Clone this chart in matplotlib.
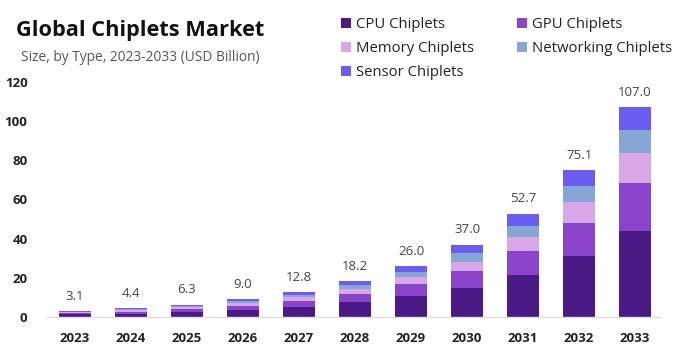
import matplotlib.pyplot as plt
import numpy as np

plt.rcParams["font.family"] = ["Open Sans", "DejaVu Sans"]

# Dados (USD Billion)
years = ["2023", "2024", "2025", "2026", "2027", "2028", "2029", "2030", "2031", "2032", "2033"]
totals = [3.1, 4.4, 6.3, 9.0, 12.8, 18.2, 26.0, 37.0, 52.7, 75.1, 107.0]

cpu = [1.3, 1.8, 2.6, 3.7, 5.3, 7.5, 10.7, 14.7, 21.6, 31.1, 44.0]
gpu = [0.7, 1.0, 1.4, 2.1, 2.9, 4.2, 6.0, 8.6, 12.1, 17.1, 24.6]
memory = [0.4, 0.6, 0.9, 1.3, 1.8, 2.5, 3.6, 5.0, 7.3, 10.4, 15.0]
networking = [0.4, 0.5, 0.7, 1.0, 1.4, 2.0, 2.9, 4.5, 5.5, 8.4, 12.0]
sensor = [0.3, 0.5, 0.7, 0.9, 1.4, 2.0, 2.8, 4.2, 6.2, 8.1, 11.4]

series = [
    ("CPU Chiplets", cpu, "#4a1a86"),
    ("GPU Chiplets", gpu, "#8a44cc"),
    ("Memory Chiplets", memory, "#d9a6e6"),
    ("Networking Chiplets", networking, "#86a6d6"),
    ("Sensor Chiplets", sensor, "#6b5cf2"),
]

fig = plt.figure(figsize=(6.86, 3.64), dpi=100)
ax = fig.add_axes([0.0685, 0.129, 0.894, 0.646])

x = np.arange(len(years))
bottom = np.zeros(len(years))
handles = {}
for name, vals, color in series:
    b = ax.bar(x, vals, width=0.57, bottom=bottom, color=color, label=name)
    handles[name] = b
    bottom += np.array(vals)

for xi, t in zip(x, totals):
    ax.annotate(f"{t:.1f}", (xi, t), xytext=(0, 6), textcoords="offset points",
                ha="center", va="bottom", fontsize=9.5, color="#444444")

ax.set_xlim(-0.5, 10.45)
ax.set_ylim(0, 120)
ax.set_yticks([0, 20, 40, 60, 80, 100, 120])
ax.set_xticks(x)
ax.set_xticklabels(years, fontweight="bold", fontsize=9.5, color="#222222")
for lab in ax.get_yticklabels():
    lab.set_fontweight("bold")
    lab.set_fontsize(9.5)
    lab.set_color("#222222")
ax.tick_params(axis="both", length=0)
ax.tick_params(axis="x", pad=11)
ax.tick_params(axis="y", pad=14)

for s in ["top", "right", "left"]:
    ax.spines[s].set_visible(False)
ax.spines["bottom"].set_color("#dddddd")
ax.spines["bottom"].set_linewidth(1)

fig.text(0.024, 0.917, "Global Chiplets Market", fontsize=15.7, fontweight="bold",
         color="#111111", va="center")
fig.text(0.031, 0.841, "Size, by Type, 2023-2033 (USD Billion)", fontsize=9.9,
         color="#555555", va="center")

order = ["CPU Chiplets", "Memory Chiplets", "Sensor Chiplets", "GPU Chiplets", "Networking Chiplets"]
fig.legend([handles[n] for n in order], order, ncol=2, loc="upper left",
           bbox_to_anchor=(0.478, 0.99), frameon=False, fontsize=10.7,
           handlelength=0.65, handleheight=0.65, handletextpad=0.33,
           columnspacing=2.9, labelspacing=0.6, labelcolor="#222222")

plt.savefig("out.png", dpi=100)
plt.close()
